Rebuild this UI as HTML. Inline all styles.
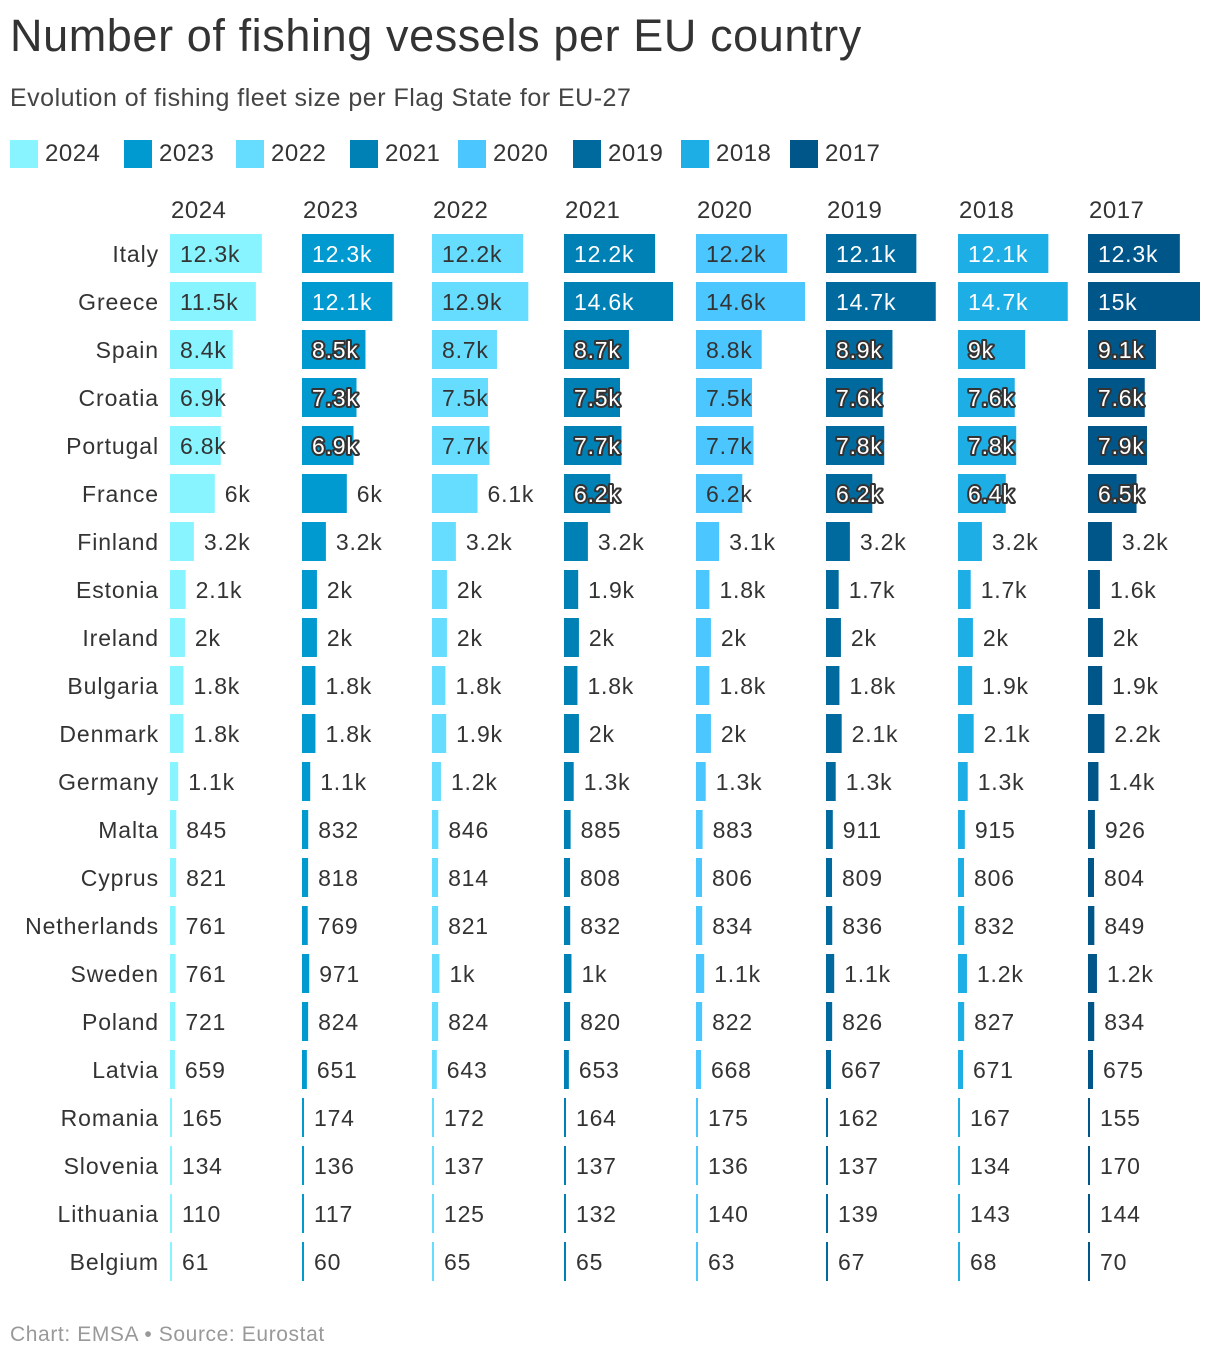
<!DOCTYPE html>
<html><head><meta charset="utf-8"><style>
body{margin:0;background:#fff;font-family:"Liberation Sans",sans-serif;color:#333}
#t{position:absolute;left:10px;top:10px;font-size:45px;letter-spacing:0.6px;color:#333}
#s{position:absolute;left:10px;top:84px;font-size:25px;letter-spacing:0.5px;color:#444}
#f{position:absolute;left:10px;top:1323px;font-size:21px;letter-spacing:0.6px;color:#999}
svg{position:absolute;left:0;top:0}
</style></head><body>
<div id="t">Number of fishing vessels per EU country</div>
<div id="s">Evolution of fishing fleet size per Flag State for EU-27</div>
<svg id="c" width="1220" height="1362"></svg>
<div id="f">Chart: EMSA • Source: Eurostat</div>
<script>
const years=["2024","2023","2022","2021","2020","2019","2018","2017"];
const countries=["Italy","Greece","Spain","Croatia","Portugal","France","Finland","Estonia","Ireland","Bulgaria","Denmark","Germany","Malta","Cyprus","Netherlands","Sweden","Poland","Latvia","Romania","Slovenia","Lithuania","Belgium"];
const v2024=[12300,11500,8400,6900,6800,6000,3200,2100,2000,1800,1800,1100,845,821,761,761,721,659,165,134,110,61];
const v2023=[12300,12100,8500,7300,6900,6000,3200,2000,2000,1800,1800,1100,832,818,769,971,824,651,174,136,117,60];
const v2022=[12200,12900,8700,7500,7700,6100,3200,2000,2000,1800,1900,1200,846,814,821,1000,824,643,172,137,125,65];
const v2021=[12200,14600,8700,7500,7700,6200,3200,1900,2000,1800,2000,1300,885,808,832,1000,820,653,164,137,132,65];
const v2020=[12200,14600,8800,7500,7700,6200,3100,1800,2000,1800,2000,1300,883,806,834,1100,822,668,175,136,140,63];
const v2019=[12100,14700,8900,7600,7800,6200,3200,1700,2000,1800,2100,1300,911,809,836,1100,826,667,162,137,139,67];
const v2018=[12100,14700,9000,7600,7800,6400,3200,1700,2000,1900,2100,1300,915,806,832,1200,827,671,167,134,143,68];
const v2017=[12300,15000,9100,7600,7900,6500,3200,1600,2000,1900,2200,1400,926,804,849,1200,834,675,155,170,144,70];
const series=[v2024,v2023,v2022,v2021,v2020,v2019,v2018,v2017];
const colors=["#88f4ff","#0099d0","#66dcff","#0081b6","#4bc6ff","#006a9e","#1eaee6","#005689"];
const darkText=[true,false,true,false,true,false,false,false];
const colX=[170,302,432,564,696,826,958,1088];
const legX=[10,124,236,350,458,573,681,790];
const NS="http://www.w3.org/2000/svg";
const svg=document.getElementById('c');
function el(t,a,txt){const e=document.createElementNS(NS,t);for(const k in a)e.setAttribute(k,a[k]);if(txt!=null)e.textContent=txt;svg.appendChild(e);return e;}
const xs=v=>v*112/15000;
const rowY=i=>234+i*48;
function fmt(v){if(v<1000)return String(v);let k=v/1000;return (Math.round(k*10)/10).toString()+"k";}
years.forEach((y,j)=>{
  let r=el('rect',{x:legX[j],y:140,width:28,height:28,fill:colors[j]});
  
  
  let t=el('text',{x:legX[j]+35,y:161,'font-size':24,'letter-spacing':0.5,fill:'#333'},y);
  
  
  let h=el('text',{x:colX[j]+1,y:218,'font-size':24,'letter-spacing':0.5,fill:'#333'},y);
  
  
});
countries.forEach((c,i)=>{
  let t=el('text',{x:159,y:rowY(i)+28,'font-size':23,'letter-spacing':0.9,fill:'#333','text-anchor':'end'},c);
  
  
  series.forEach((s,j)=>{
    const v=s[i],w=Math.max(xs(v),2);
    let r=el('rect',{x:colX[j],y:rowY(i),width:w,height:39,fill:colors[j]});
    
    
    const inside=v>=6150;
    const a={x:inside?colX[j]+10:colX[j]+w+10,y:rowY(i)+28,'font-size':23,'letter-spacing':0.8};
    if(inside&&!darkText[j]){a.fill='#fff';if(v<10000){a.stroke='#333';a['stroke-width']=4;a['paint-order']='stroke';a['stroke-linejoin']='round';}}
    else a.fill='#333';
    let l=el('text',a,fmt(v));
    
    
  });
});
</script>
</body></html>
